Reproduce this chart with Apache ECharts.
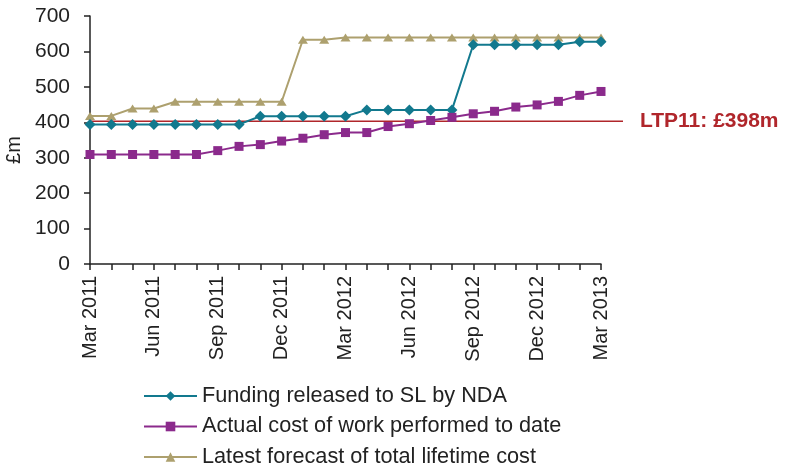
<!DOCTYPE html>
<html>
<head>
<meta charset="utf-8">
<script src="https://cdn.jsdelivr.net/npm/echarts@6/dist/echarts.min.js"></script>
<style>html,body{margin:0;padding:0;background:#fff}#c{width:785px;height:467px}</style>
</head>
<body>
<div id="c"></div>
<script>
var months = ['Mar 2011','Apr 2011','May 2011','Jun 2011','Jul 2011','Aug 2011','Sep 2011','Oct 2011','Nov 2011','Dec 2011','Jan 2012','Feb 2012','Mar 2012','Apr 2012','May 2012','Jun 2012','Jul 2012','Aug 2012','Sep 2012','Oct 2012','Nov 2012','Dec 2012','Jan 2013','Feb 2013','Mar 2013'];
var funding = [394,394,394,394,394,394,394,394,417,417,417,417,417,435,435,435,435,435,619,619,619,619,619,627,627];
var actual = [309,309,309,309,309,309,320,332,337,347,355,365,371,371,388,396,405,414,424,431,443,449,459,476,487];
var forecast = [418,418,439,439,458,458,458,458,458,458,633,633,639,639,639,639,639,639,639,639,639,639,639,639,639];
var ltpValue = 403;
var ltpLabel = 'LTP11: £398m';
var seriesNames = ['Funding released to SL by NDA','Actual cost of work performed to date','Latest forecast of total lifetime cost'];
var yTicks = [0,100,200,300,400,500,600,700];

var chart = echarts.init(document.getElementById('c'), null, {renderer:'canvas'});
var font = 'Liberation Sans, Arial, sans-serif';
var axisColor = '#222';
chart.setOption({
  animation:false,
  textStyle:{fontFamily:font},
  grid:[
    {left:90, right:184, top:16, bottom:203, containLabel:false, outerBoundsMode:'none'},
    {left:90, right:162, top:16, bottom:203, containLabel:false, outerBoundsMode:'none'}
  ],
  legend:{
    orient:'vertical', left:143, top:385, padding:0, itemWidth:53, itemHeight:12, itemGap:8.5,
    height:100,
    data:seriesNames,
    textStyle:{fontSize:21.7, color:'#222', fontFamily:font, lineHeight:21}
  },
  xAxis:[
    {type:'category', gridIndex:0, data:months, boundaryGap:false,
     axisLine:{lineStyle:{color:axisColor, width:1.5}},
     axisTick:{show:true, interval:0, length:6, lineStyle:{color:axisColor, width:1.5}},
     axisLabel:{interval:2, rotate:90, fontSize:20, color:'#222', margin:12, fontFamily:font}
    },
    {type:'value', gridIndex:1, min:0, max:1, show:false}
  ],
  yAxis:[
    {type:'value', gridIndex:0, min:0, max:700, interval:100,
     name:'£m', nameLocation:'middle', nameGap:64, nameRotate:90,
     nameTextStyle:{fontSize:20, color:'#222', fontFamily:font, padding:[0,20,0,0]},
     axisLine:{show:true, lineStyle:{color:axisColor, width:1.5}},
     axisTick:{show:true, length:6, lineStyle:{color:axisColor, width:1.5}},
     axisLabel:{fontSize:21, color:'#222', margin:20, fontFamily:font},
     splitLine:{show:false}
    },
    {type:'value', gridIndex:1, min:0, max:700, show:false}
  ],
  series:[
    {name:'LTP', type:'line', xAxisIndex:1, yAxisIndex:1, data:[[0,ltpValue],[1,ltpValue]],
     symbol:'none', lineStyle:{color:'#B0262B', width:1.5}, z:1, silent:true,
     endLabel:{show:true, formatter:ltpLabel, distance:17, fontSize:21, fontWeight:'bold', color:'#B0262B', fontFamily:font}
    },
    {name:seriesNames[0], type:'line', data:funding, symbol:'diamond', symbolSize:11,
     itemStyle:{color:'#12798E'}, lineStyle:{color:'#12798E', width:2}, z:3},
    {name:seriesNames[1], type:'line', data:actual, symbol:'rect', symbolSize:9,
     itemStyle:{color:'#8B2A8C'}, lineStyle:{color:'#8B2A8C', width:2}, z:3},
    {name:seriesNames[2], type:'line', data:forecast, symbol:'triangle', symbolSize:[10,8],
     itemStyle:{color:'#ADA06E'}, lineStyle:{color:'#ADA06E', width:2}, z:2}
  ]
});
</script>
</body>
</html>
